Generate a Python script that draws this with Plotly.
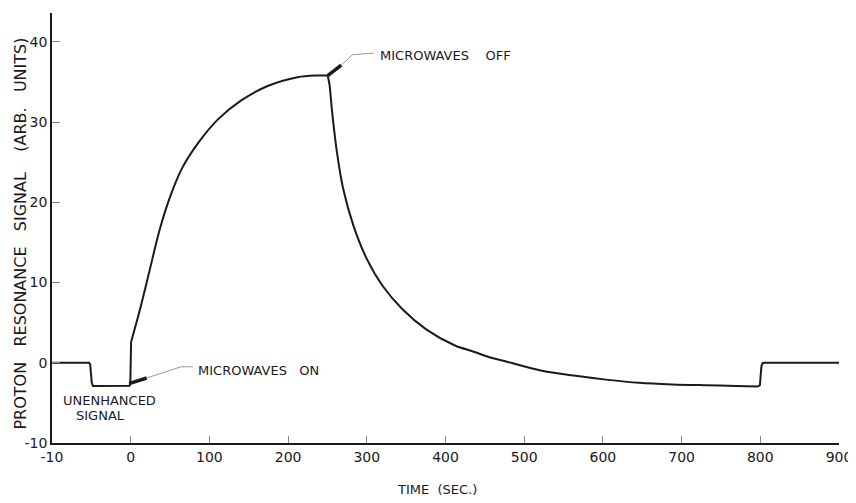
import plotly.graph_objects as go

# ---- data ----
time_s = [-100, -53, -51.5, -50.5, -49.5, -48, -4, -1.5, -0.5, 0, 0.5, 11, 23.5, 36, 49, 65, 86.5,
          111.5, 140.5, 174, 212, 235, 249, 250.3, 252.7, 255.6, 262, 270, 283, 300, 320, 345,
          375, 412, 437, 454, 479, 521, 563, 604, 646, 688, 730, 770, 797, 799.5, 800.5, 801.5,
          803, 805, 900]
signal = [0, 0, -0.2, -1.2, -2.5, -2.9, -2.9, -2.85, -2.6, 0.0, 2.6, 6.35, 11.3, 16.3, 20.4, 24.2, 27.5,
          30.4, 32.7, 34.5, 35.6, 35.8, 35.8, 35.8, 34.6, 31.6, 26.3, 21.7, 17.1, 12.95, 9.6, 6.7,
          4.2, 2.15, 1.35, 0.75, 0.1, -0.96, -1.6, -2.1, -2.5, -2.7, -2.8, -2.88, -2.95, -2.8, -1.5, -0.4,
          -0.05, 0, 0]

x_tickvals = [-100, 0, 100, 200, 300, 400, 500, 600, 700, 800, 900]
x_ticktext = ["-10", "0", "100", "200", "300", "400", "500", "600", "700", "800", "900"]
y_tickvals = [-10, 0, 10, 20, 30, 40]
y_ticktext = ["-10", "0", "10", "20", "30", "40"]

# annotation pointers (thick arrow stub, then thin leader)
on_stub_x = [-2, 20.3]
on_stub_y = [-2.6, -1.9]
on_lead_x = [20.3, 64, 79]
on_lead_y = [-1.9, -0.5, -0.5]
off_stub_x = [250.3, 267.6]
off_stub_y = [35.8, 37.1]
off_lead_x = [267.6, 281.8, 309]
off_lead_y = [37.1, 38.4, 38.6]

label_on = "MICROWAVES\u00a0\u00a0\u00a0ON"
label_off = "MICROWAVES\u00a0\u00a0\u00a0\u00a0OFF"
label_unenh_1 = "UNENHANCED"
label_unenh_2 = "SIGNAL"
x_title = "TIME\u00a0\u00a0(SEC.)"
y_title = ("PROTON\u00a0\u00a0\u00a0RESONANCE\u00a0\u00a0\u00a0SIGNAL\u00a0\u00a0\u00a0\u00a0"
           "(ARB.\u00a0\u00a0\u00a0UNITS)")

FONT = "DejaVu Sans"
INK = "#1a1a1a"

# piecewise drawing: sharp steps drawn straight, smooth relaxation curves as splines
segments = [(0, 11, "linear"), (10, 24, "spline"), (23, 45, "spline"), (44, len(time_s), "linear")]

fig = go.Figure()
for i0, i1, shape in segments:
    fig.add_trace(go.Scatter(x=time_s[i0:i1], y=signal[i0:i1], mode="lines",
                             line=dict(color=INK, width=2, shape=shape, smoothing=0.8),
                             hoverinfo="skip"))
for xs, ys, w, c in [(on_stub_x, on_stub_y, 3.5, INK), (off_stub_x, off_stub_y, 3.5, INK),
                     (on_lead_x, on_lead_y, 1, "#9a9a9a"), (off_lead_x, off_lead_y, 1, "#9a9a9a")]:
    fig.add_trace(go.Scatter(x=xs, y=ys, mode="lines", line=dict(color=c, width=w),
                             hoverinfo="skip"))

anns = [
    dict(x=83, y=-0.96, text=label_on, xanchor="left", yanchor="middle"),
    dict(x=314.8, y=38.3, text=label_off, xanchor="left", yanchor="middle"),
    dict(x=-27.3, y=-4.7, text=label_unenh_1, xanchor="center", yanchor="middle"),
    dict(x=-38, y=-6.6, text=label_unenh_2, xanchor="center", yanchor="middle"),
]
for a in anns:
    fig.add_annotation(**a, xref="x", yref="y", showarrow=False,
                       font=dict(family=FONT, size=13, color=INK))
fig.add_annotation(x=0.489, y=-0.109, xref="paper", yref="paper", text=x_title, showarrow=False,
                   xanchor="center", yanchor="middle", font=dict(family=FONT, size=13, color=INK))
fig.add_annotation(x=-0.040, y=0.486, xref="paper", yref="paper", text=y_title, showarrow=False,
                   textangle=-90, xanchor="center", yanchor="middle",
                   font=dict(family=FONT, size=16, color=INK))

# the page body adds an 8px offset, so the figure is sized to fill the rest of the window
fig.update_layout(
    width=848, height=495,
    margin=dict(l=44, r=17, t=5, b=60, autoexpand=False),
    paper_bgcolor="white", plot_bgcolor="white",
    showlegend=False,
    font=dict(family=FONT, color=INK),
)
fig.update_xaxes(range=[-100, 900], tickvals=x_tickvals, ticktext=x_ticktext, automargin=False,
                 showgrid=False, zeroline=False, showline=True, linecolor=INK, linewidth=1.5,
                 ticks="inside", ticklen=7, tickcolor="#888", tickwidth=1,
                 ticklabeloverflow="allow",
                 tickfont=dict(family=FONT, size=14, color=INK))
fig.update_yaxes(range=[-10, 43.6], tickvals=y_tickvals, ticktext=y_ticktext, automargin=False,
                 showgrid=False, zeroline=False, showline=True, linecolor=INK, linewidth=1.5,
                 ticks="inside", ticklen=8, tickcolor="#888", tickwidth=1,
                 ticklabeloverflow="allow",
                 tickfont=dict(family=FONT, size=14, color=INK))

fig.write_html("out.html")
